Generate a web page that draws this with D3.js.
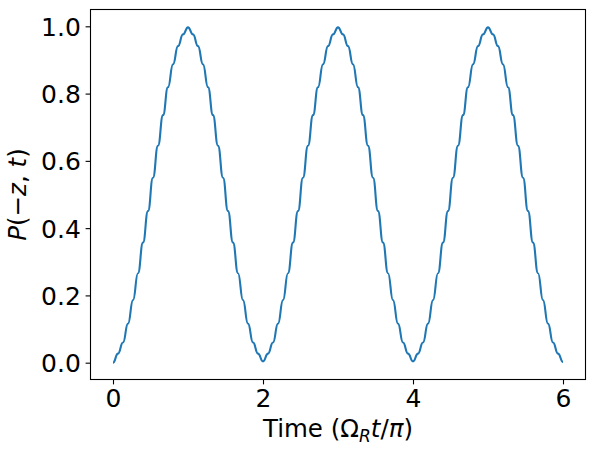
<!DOCTYPE html>
<html>
<head>
<meta charset="utf-8">
<script src="https://cdn.jsdelivr.net/npm/d3@7"></script>
<style>
  body { margin: 0; background: #fff; }
  text { font-family: "DejaVu Sans", sans-serif; }
</style>
</head>
<body>
<div id="chart"></div>
<script>
// plateau points of the curve, one every 1/15 of a time unit
var time = [
    0, 0.067, 0.133, 0.2, 0.267, 0.333, 0.4, 0.467, 0.533, 0.6, 0.667, 0.733, 0.8, 0.867, 0.933, 1,
    1.067, 1.133, 1.2, 1.267, 1.333, 1.4, 1.467, 1.533, 1.6, 1.667, 1.733, 1.8, 1.867, 1.933, 2,
    2.067, 2.133, 2.2, 2.267, 2.333, 2.4, 2.467, 2.533, 2.6, 2.667, 2.733, 2.8, 2.867, 2.933, 3,
    3.067, 3.133, 3.2, 3.267, 3.333, 3.4, 3.467, 3.533, 3.6, 3.667, 3.733, 3.8, 3.867, 3.933, 4,
    4.067, 4.133, 4.2, 4.267, 4.333, 4.4, 4.467, 4.533, 4.6, 4.667, 4.733, 4.8, 4.867, 4.933, 5,
    5.067, 5.133, 5.2, 5.267, 5.333, 5.4, 5.467, 5.533, 5.6, 5.667, 5.733, 5.8, 5.867, 5.933, 6
];
var prob = [
    0, 0.027, 0.060, 0.116, 0.186, 0.266, 0.357, 0.451, 0.550, 0.645, 0.736, 0.819, 0.887, 0.941, 0.976, 0.997,
    0.976, 0.941, 0.887, 0.819, 0.736, 0.645, 0.550, 0.451, 0.357, 0.266, 0.186, 0.116, 0.060, 0.027, 0.004,
    0.027, 0.060, 0.116, 0.186, 0.266, 0.357, 0.451, 0.550, 0.645, 0.736, 0.819, 0.887, 0.941, 0.976, 0.997,
    0.976, 0.941, 0.887, 0.819, 0.736, 0.645, 0.550, 0.451, 0.357, 0.266, 0.186, 0.116, 0.060, 0.027, 0.004,
    0.027, 0.060, 0.116, 0.186, 0.266, 0.357, 0.451, 0.550, 0.645, 0.736, 0.819, 0.887, 0.941, 0.976, 0.997,
    0.976, 0.941, 0.887, 0.819, 0.736, 0.645, 0.550, 0.451, 0.357, 0.266, 0.186, 0.116, 0.060, 0.027, 0.002
];
var xTicks = [0, 2, 4, 6];
var yTicks = [0, 0.2, 0.4, 0.6, 0.8, 1.0];

var width = 596,
    height = 454,
    plotLeft = 90.5, plotRight = 585.5, plotTop = 9.5, plotBottom = 379.5;

var svg = d3.select('#chart')
    .append('svg')
    .attr('width', width)
    .attr('height', height);

var x = d3.scaleLinear().domain([-0.3, 6.3]).range([plotLeft, plotRight]);
var y = d3.scaleLinear().domain([-0.05, 1.05]).range([plotBottom, plotTop]);

var points = time.map(function(t, i) { return [t, prob[i]]; });

var line = d3.line()
    .x(function(d) { return x(d[0]); })
    .y(function(d) { return y(d[1]); })
    .curve(d3.curveBumpX);

svg.append('path')
    .datum(points)
    .attr('fill', 'none')
    .attr('stroke', '#1f77b4')
    .attr('stroke-width', 2.1)
    .attr('stroke-linejoin', 'round')
    .attr('d', line);

var xAxis = svg.append('g')
    .attr('transform', 'translate(0,' + plotBottom + ')')
    .call(d3.axisBottom(x).tickValues(xTicks).tickFormat(d3.format('d')).tickSize(4.9).tickPadding(4.5));
var yAxis = svg.append('g')
    .attr('transform', 'translate(' + plotLeft + ',0)')
    .call(d3.axisLeft(y).tickValues(yTicks).tickFormat(d3.format('.1f')).tickSize(4.9).tickPadding(4.8));

[xAxis, yAxis].forEach(function(g) {
    g.attr('font-size', null).attr('font-family', null);
    g.select('.domain').remove();
    g.selectAll('.tick line').attr('stroke', '#000').attr('stroke-width', 1.1);
    g.selectAll('.tick text')
        .attr('fill', '#000')
        .style('font-size', '25px');
});
yAxis.selectAll('.tick text').attr('dy', '0.36em');

svg.append('rect')
    .attr('x', plotLeft)
    .attr('y', plotTop)
    .attr('width', plotRight - plotLeft)
    .attr('height', plotBottom - plotTop)
    .attr('fill', 'none')
    .attr('stroke', '#000')
    .attr('stroke-width', 1.1);

// x label: Time (Ω_R t/π)
var xl = svg.append('text')
    .attr('x', (plotLeft + plotRight) / 2)
    .attr('y', 437)
    .attr('text-anchor', 'middle')
    .style('font-size', '24.5px');
xl.append('tspan').text('Time (Ω');
xl.append('tspan').attr('font-style', 'italic').attr('font-size', '17px').attr('dy', 5).text('R');
xl.append('tspan').attr('font-style', 'italic').attr('dy', -5).text('t');
xl.append('tspan').text('/');
xl.append('tspan').attr('font-style', 'italic').text('π');
xl.append('tspan').text(')');

// y label: P(−z, t)
var yl = svg.append('text')
    .attr('transform', 'translate(26,' + ((plotTop + plotBottom) / 2) + ') rotate(-90)')
    .attr('text-anchor', 'middle')
    .style('font-size', '24.5px');
yl.append('tspan').attr('font-style', 'italic').text('P');
yl.append('tspan').text('(−');
yl.append('tspan').attr('font-style', 'italic').text('z');
yl.append('tspan').text(', ');
yl.append('tspan').attr('font-style', 'italic').text('t');
yl.append('tspan').text(')');
</script>
</body>
</html>
